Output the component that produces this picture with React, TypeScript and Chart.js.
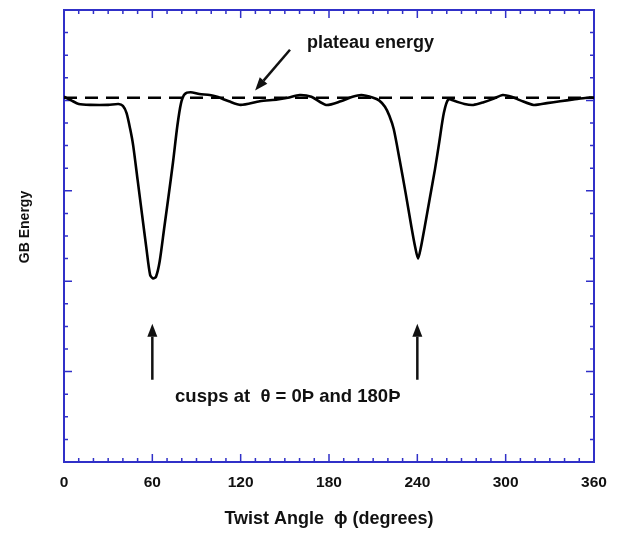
import React, { useEffect, useRef } from "react";
import { Chart, registerables } from "chart.js";

Chart.register(...registerables);

// Twist angle (degrees) sampled along the curve
const angles = [
  0, 5, 10, 18, 30, 37, 40, 42.5, 45, 47, 50, 53, 56, 58.5, 60.5, 62.5, 65, 68, 71, 74, 77,
  79.5, 82, 86, 92, 99, 104, 112, 120, 133, 145, 152, 160, 168, 178, 188, 196, 202, 210, 214,
  218, 221, 224, 228, 232, 236, 238.5, 240.5, 242.5, 245, 248.5, 252, 255, 258, 261, 266, 272,
  278, 285, 292, 298, 304, 310, 319, 328, 337, 346, 355, 360,
];
// GB energy (arbitrary units)
const energy = [
  4.04, 4.0, 3.96, 3.95, 3.95, 3.96, 3.94, 3.86, 3.68, 3.5, 3.12, 2.74, 2.36, 2.07, 2.03, 2.05,
  2.22, 2.58, 2.94, 3.31, 3.72, 3.97, 4.07, 4.09, 4.07, 4.06, 4.04, 3.99, 3.95, 3.99, 4.01, 4.03,
  4.06, 4.04, 3.95, 3.99, 4.04, 4.06, 4.03, 4.0, 3.93, 3.83, 3.68, 3.34, 2.98, 2.6, 2.38, 2.25,
  2.38, 2.6, 2.92, 3.24, 3.55, 3.86, 4.01, 3.99, 3.96, 3.95, 3.98, 4.02, 4.06, 4.04, 4.0, 3.95,
  3.97, 3.99, 4.01, 4.03, 4.03,
];
const plateauEnergy = 4.03;
const xTickLabels = [0, 60, 120, 180, 240, 300, 360];
const cuspAngles = [60, 240];

const FONT = "'Liberation Sans', Arial, Helvetica, sans-serif";
const BLUE = "#3030c8";

const framePlugin = {
  id: "frameTicks",
  beforeDatasetsDraw(chart: any) {
    const { ctx, chartArea: a, scales } = chart;
    const xs = scales.x;
    const ys = scales.y;
    ctx.save();
    ctx.strokeStyle = BLUE;
    ctx.lineWidth = 2;
    ctx.strokeRect(a.left, a.top, a.right - a.left, a.bottom - a.top);
    ctx.lineWidth = 1.5;
    ctx.beginPath();
    for (let v = 0; v <= 360; v += 10) {
      const px = xs.getPixelForValue(v);
      const len = v % 60 === 0 ? 8 : 4;
      ctx.moveTo(px, a.bottom);
      ctx.lineTo(px, a.bottom - len);
      ctx.moveTo(px, a.top);
      ctx.lineTo(px, a.top + len);
    }
    for (let i = 0; i <= 20; i++) {
      const v = i * 0.25;
      const py = ys.getPixelForValue(v);
      const len = i % 4 === 0 ? 8 : 4;
      ctx.moveTo(a.left, py);
      ctx.lineTo(a.left + len, py);
      ctx.moveTo(a.right, py);
      ctx.lineTo(a.right - len, py);
    }
    ctx.stroke();
    ctx.restore();
  },
  afterDraw(chart: any) {
    const { ctx, scales } = chart;
    const xs = scales.x;
    const ys = scales.y;
    const X = (v: number) => xs.getPixelForValue(v);
    const Y = (v: number) => ys.getPixelForValue(v);
    ctx.save();
    ctx.fillStyle = "#111";
    ctx.strokeStyle = "#111";
    ctx.lineWidth = 2.5;

    const arrow = (x1: number, y1: number, x2: number, y2: number) => {
      const ang = Math.atan2(y2 - y1, x2 - x1);
      const head = 13;
      const hw = 5;
      const bx = x2 - head * Math.cos(ang);
      const by = y2 - head * Math.sin(ang);
      ctx.beginPath();
      ctx.moveTo(x1, y1);
      ctx.lineTo(bx, by);
      ctx.stroke();
      ctx.beginPath();
      ctx.moveTo(x2, y2);
      ctx.lineTo(bx + hw * Math.sin(ang), by - hw * Math.cos(ang));
      ctx.lineTo(bx - hw * Math.sin(ang), by + hw * Math.cos(ang));
      ctx.closePath();
      ctx.fill();
    };

    // plateau arrow
    arrow(X(153.5), Y(4.56), X(129.8), Y(4.11));
    // cusp arrows
    cuspAngles.forEach((c) => arrow(X(c), Y(0.91), X(c), Y(1.53)));

    ctx.textBaseline = "middle";
    ctx.textAlign = "left";
    ctx.font = `bold 18px ${FONT}`;
    ctx.fillText("plateau energy", X(165), Y(4.64));
    ctx.textAlign = "center";
    ctx.font = `bold 18.5px ${FONT}`;
    ctx.fillText("cusps at  \u03b8 = 0\u00de and 180\u00de", X(152), Y(0.72));

    // y-axis title
    ctx.save();
    ctx.translate(25, 227);
    ctx.rotate(-Math.PI / 2);
    ctx.font = `bold 14px ${FONT}`;
    ctx.textAlign = "center";
    ctx.fillText("GB Energy", 0, 0);
    ctx.restore();
    ctx.restore();
  },
};

export default function App() {
  const ref = useRef<HTMLCanvasElement | null>(null);
  useEffect(() => {
    if (!ref.current) return;
    const chart = new Chart(ref.current, {
      type: "line",
      data: {
        datasets: [
          {
            data: angles.map((a, i) => ({ x: a, y: energy[i] })),
            borderColor: "#000",
            borderWidth: 2.6,
            pointRadius: 0,
            tension: 0.25,
            fill: false,
          },
          {
            data: [
              { x: 0, y: plateauEnergy },
              { x: 360, y: plateauEnergy },
            ],
            borderColor: "#000",
            borderWidth: 2.5,
            borderDash: [13, 8],
            pointRadius: 0,
            fill: false,
          },
        ],
      },
      options: {
        responsive: false,
        animation: false,
        layout: { padding: { left: 0, top: 10, right: 26, bottom: 0 } },
        plugins: { legend: { display: false }, tooltip: { enabled: false } },
        scales: {
          x: {
            type: "linear",
            min: 0,
            max: 360,
            afterBuildTicks: (s: any) => {
              s.ticks = xTickLabels.map((v) => ({ value: v }));
            },
            ticks: {
              color: "#111",
              font: { family: FONT, weight: "bold", size: 15.5 },
              padding: 11,
              maxRotation: 0,
              autoSkip: false,
            },
            grid: { display: false, drawTicks: false },
            border: { display: false },
            title: {
              display: true,
              text: "Twist Angle  \u03d5 (degrees)",
              color: "#111",
              font: { family: FONT, weight: "bold", size: 18 },
              padding: { top: 0, bottom: 11 },
            },
            afterFit: (s: any) => {
              s.height = 79;
            },
          },
          y: {
            type: "linear",
            min: 0,
            max: 5,
            ticks: { display: false },
            grid: { display: false, drawTicks: false },
            border: { display: false },
            title: { display: false },
            afterFit: (s: any) => {
              s.width = 64;
            },
          },
        },
      },
      plugins: [framePlugin],
    } as any);
    return () => chart.destroy();
  }, []);
  return (
    <div style={{ position: "fixed", left: 0, top: 0, width: 620, height: 541, background: "#fff" }}>
      <canvas ref={ref} width={620} height={541} style={{ display: "block" }} />
    </div>
  );
}
